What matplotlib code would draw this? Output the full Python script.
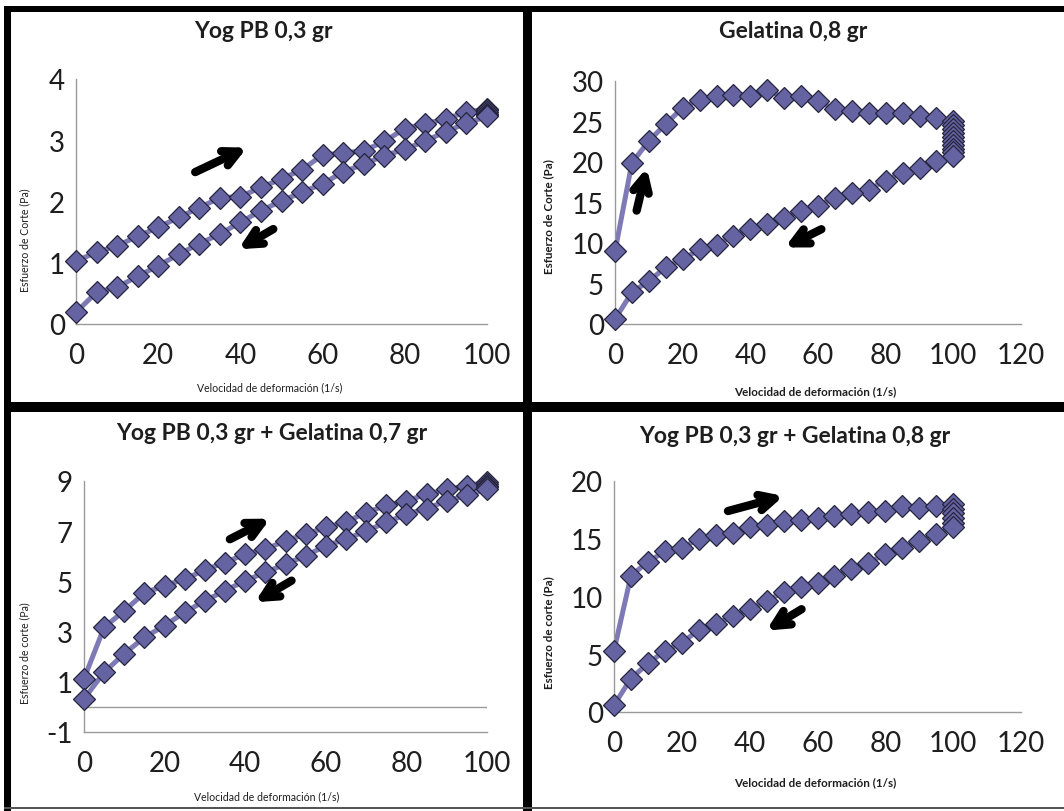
import matplotlib
matplotlib.use("Agg")
import matplotlib.pyplot as plt
from matplotlib.patches import Rectangle

plt.rcParams['font.family'] = ['Lato', 'DejaVu Sans']
plt.rcParams['axes.unicode_minus'] = False

W, H = 1064, 812

# ---------------- data ----------------
shear_up = [0, 5, 10, 15, 20, 25, 30, 35, 40, 45, 50, 55, 60, 65, 70, 75, 80, 85, 90, 95, 100]
shear_down = [100, 95, 90, 85, 80, 75, 70, 65, 60, 55, 50, 45, 40, 35, 30, 25, 20, 15, 10, 5, 0]

titles = ["Yog PB 0,3 gr", "Gelatina 0,8 gr",
          "Yog PB 0,3 gr + Gelatina 0,7 gr", "Yog PB 0,3 gr + Gelatina 0,8 gr"]
ylabels = ["Esfuerzo de Corte (Pa)", "Esfuerzo de Corte (Pa)",
           "Esfuerzo de corte (Pa)", "Esfuerzo de corte (Pa)"]
xlabel = "Velocidad de deformación (1/s)"

yog_up = [1.03, 1.17, 1.28, 1.43, 1.58, 1.74, 1.90, 2.06, 2.08, 2.23, 2.37,
          2.52, 2.76, 2.79, 2.83, 2.98, 3.19, 3.27, 3.35, 3.46, 3.51]
yog_hold_x = [100, 100, 100, 100]
yog_hold = [3.49, 3.46, 3.43, 3.41]
yog_down = [3.39, 3.28, 3.14, 2.99, 2.85, 2.75, 2.61, 2.48, 2.29, 2.15, 2.01,
            1.85, 1.66, 1.47, 1.31, 1.14, 0.95, 0.78, 0.60, 0.52, 0.19]

gel_up = [8.96, 19.9, 22.6, 24.7, 26.7, 27.7, 28.2, 28.3, 28.2, 28.9, 27.9,
          28.1, 27.5, 26.5, 26.3, 26.1, 26.0, 26.0, 25.7, 25.4, 25.1]
gel_hold_x = [100, 100, 100, 100, 100, 100, 100, 100]
gel_hold = [24.6, 24.1, 23.6, 23.1, 22.6, 22.1, 21.6, 21.2]
gel_down = [20.8, 20.1, 19.2, 18.7, 17.7, 16.6, 16.2, 15.6, 14.6, 14.0, 13.1,
            12.3, 11.7, 10.9, 9.8, 9.2, 8.0, 7.0, 5.3, 3.9, 0.6]

mix07_up = [1.12, 3.17, 3.83, 4.54, 4.83, 5.09, 5.46, 5.75, 6.09, 6.28, 6.62,
            6.88, 7.15, 7.37, 7.74, 8.03, 8.21, 8.47, 8.67, 8.80, 8.96]
mix07_hold_x = [100, 100, 100]
mix07_hold = [8.90, 8.82, 8.75]
mix07_down = [8.67, 8.43, 8.21, 7.90, 7.68, 7.35, 7.01, 6.68, 6.42, 6.02, 5.69,
              5.36, 5.03, 4.63, 4.23, 3.77, 3.24, 2.77, 2.12, 1.38, 0.32]

mix08_up = [5.32, 11.8, 13.0, 13.9, 14.2, 15.0, 15.3, 15.5, 16.0, 16.2, 16.5,
            16.6, 16.8, 17.0, 17.1, 17.3, 17.4, 17.8, 17.7, 17.8, 18.0]
mix08_hold_x = [100, 100, 100, 100]
mix08_hold = [17.6, 17.2, 16.8, 16.4]
mix08_down = [16.0, 15.4, 14.8, 14.2, 13.7, 12.9, 12.4, 11.8, 11.2, 10.8, 10.4,
              9.6, 8.9, 8.3, 7.6, 7.1, 6.0, 5.3, 4.2, 2.9, 0.6]

xticks_100 = [0, 20, 40, 60, 80, 100]
xticks_120 = [0, 20, 40, 60, 80, 100, 120]
yticks_yog = [0, 1, 2, 3, 4]
yticks_gel = [0, 5, 10, 15, 20, 25, 30]
yticks_mix07 = [-1, 1, 3, 5, 7, 9]
yticks_mix08 = [0, 5, 10, 15, 20]

# arrows (tail -> head), data coords
arrows_yog = [((29, 2.48), (41.6, 2.88)), ((48, 1.55), (39.5, 1.22))]
arrows_gel = [((6.4, 14.0), (9.4, 19.3)), ((61, 11.7), (50.2, 9.45))]
arrows_mix07 = [((36.2, 6.68), (46.2, 7.50)), ((51.5, 5.03), (42.4, 4.17))]
arrows_mix08 = [((33.6, 17.4), (50.0, 18.7)), ((55.3, 8.9), (44.9, 7.05))]

# ---------------- figure ----------------
fig = plt.figure(figsize=(W / 100, H / 100), dpi=100)
fig.patch.set_facecolor('white')


def fig_rect(x0, y0, x1, y1, color='black'):
    fig.add_artist(Rectangle((x0 / W, 1 - y1 / H), (x1 - x0) / W, (y1 - y0) / H,
                             transform=fig.transFigure, facecolor=color,
                             edgecolor='none', zorder=10))


def add_ax(x0, x1, ytop, ybot):
    return fig.add_axes([x0 / W, 1 - ybot / H, (x1 - x0) / W, (ybot - ytop) / H])


LINE_C = '#7e7ab6'
FILL_C = '#6663a3'
EDGE_C = '#25253d'
TXT_C = '#1e1e1e'

panels = [
    dict(pos=(76, 487, 80, 325), xlim=(0, 100), xt=xticks_100, ylim=(0, 4), yt=yticks_yog,
         up=yog_up, hx=yog_hold_x, hold=yog_hold, down=yog_down, arrows=arrows_yog,
         title_xy=(263, 32), ylab_xy=(25, 240), xlab_xy=(270, 388), lab_fs=7.6, lab_w='normal'),
    dict(pos=(615, 1021, 82, 325), xlim=(0, 120), xt=xticks_120, ylim=(0, 30), yt=yticks_gel,
         up=gel_up, hx=gel_hold_x, hold=gel_hold, down=gel_down, arrows=arrows_gel,
         title_xy=(793, 32), ylab_xy=(549, 217), xlab_xy=(815, 392), lab_fs=8.4, lab_w='bold'),
    dict(pos=(84, 487, 482, 733), xlim=(0, 100), xt=xticks_100, ylim=(-1, 9), yt=yticks_mix07,
         up=mix07_up, hx=mix07_hold_x, hold=mix07_hold, down=mix07_down, arrows=arrows_mix07,
         title_xy=(272, 434), ylab_xy=(25, 653), xlab_xy=(267, 797), lab_fs=7.6, lab_w='normal'),
    dict(pos=(614, 1021, 482, 713), xlim=(0, 120), xt=xticks_120, ylim=(0, 20), yt=yticks_mix08,
         up=mix08_up, hx=mix08_hold_x, hold=mix08_hold, down=mix08_down, arrows=arrows_mix08,
         title_xy=(795, 437), ylab_xy=(549, 633), xlab_xy=(815, 783), lab_fs=8.4, lab_w='bold'),
]

for i, p in enumerate(panels):
    ax = add_ax(*p['pos'])
    xs = shear_up + p['hx'] + shear_down
    ys = p['up'] + p['hold'] + p['down']
    ax.plot(xs, ys, color=LINE_C, lw=3.6, zorder=2, solid_capstyle='round')
    ax.plot(xs, ys, linestyle='none', marker='D', ms=10.8, mfc=FILL_C, mec=EDGE_C,
            mew=0.9, zorder=3, clip_on=False)
    ax.set_xlim(*p['xlim'])
    ax.set_ylim(*p['ylim'])
    ax.set_xticks(p['xt'])
    ax.set_yticks(p['yt'])
    ax.tick_params(length=0, labelsize=20, colors=TXT_C)
    ax.tick_params(axis='x', pad=13)
    ax.tick_params(axis='y', pad=8)
    for s in ['top', 'right']:
        ax.spines[s].set_visible(False)
    for s in ['left', 'bottom']:
        ax.spines[s].set_color('#9a9a9a')
        ax.spines[s].set_linewidth(1.0)
    ax.set_facecolor('none')
    if p['ylim'][0] < 0:
        ax.axhline(0, color='#9a9a9a', lw=1.0, zorder=1)
    for (t, h) in p['arrows']:
        ax.annotate('', xy=h, xytext=t,
                    arrowprops=dict(arrowstyle='->', lw=6.0, color='black',
                                    mutation_scale=28, shrinkA=0, shrinkB=0,
                                    capstyle='round', joinstyle='round'),
                    zorder=5)
    tx, ty = p['title_xy']
    fig.text(tx / W, 1 - ty / H, titles[i], ha='center', va='center',
             fontsize=16.5, fontweight='bold', color=TXT_C)
    lx, ly = p['ylab_xy']
    fig.text(lx / W, 1 - ly / H, ylabels[i], ha='center', va='center', rotation=90,
             fontsize=p['lab_fs'], fontweight=p['lab_w'], color=TXT_C)
    xx, xy = p['xlab_xy']
    fig.text(xx / W, 1 - xy / H, xlabel, ha='center', va='center',
             fontsize=p['lab_fs'], fontweight=p['lab_w'], color=TXT_C)

# frame: black bands
fig_rect(4, 7, 1064, 13)      # top band
fig_rect(4, 7, 11, 812)       # left band
fig_rect(523, 7, 532, 812)    # vertical divider
fig_rect(4, 403, 1064, 413)   # horizontal divider
fig_rect(4, 808, 1064, 810, color='#555555')  # bottom thin line

fig.savefig('out.png', dpi=100, facecolor='white')
